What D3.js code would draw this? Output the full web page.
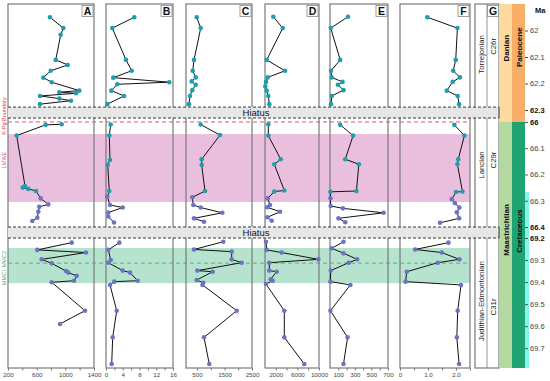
<!DOCTYPE html>
<html>
<head>
<meta charset="utf-8">
<script src="https://cdn.jsdelivr.net/npm/d3@7"></script>
<style>
  body { margin: 0; background: #fff; }
  svg { display: block; font-family: Arial, "Liberation Sans", sans-serif; }
</style>
</head>
<body>
<svg width="550" height="381"></svg>
<script>
// [age in Ma, value] for each proxy column, top to bottom
const panelA = [
  [61.950, 786], [61.991, 972], [62.016, 935], [62.111, 866], [62.130, 1033], [62.152, 796],
  [62.178, 693], [62.195, 810], [62.227, 1195], [62.233, 916], [62.237, 1149], [62.247, 647],
  [62.257, 916], [62.265, 1079], [62.278, 647],
  [66.009, 949], [66.011, 726], [66.052, 321], [66.244, 437], [66.250, 405], [66.255, 483],
  [66.263, 591], [66.291, 656], [66.314, 762], [66.323, 637], [66.342, 623], [66.365, 609], [66.377, 539],
  [69.221, 1089], [69.254, 609], [69.266, 1288], [69.297, 670], [69.315, 810], [69.350, 1009],
  [69.357, 1041], [69.372, 1159], [69.394, 1121], [69.401, 810], [69.530, 1274], [69.590, 926]
];
const panelB = [
  [61.950, 6.76], [61.991, 1.5], [62.111, 4.78], [62.152, 6.14], [62.178, 1.74], [62.195, 15.1],
  [62.203, 2.7], [62.227, 1.27], [62.247, 4.3], [62.278, 0.31],
  [66.010, 1.12], [66.052, 0.79], [66.145, 0.96], [66.163, 0.41], [66.263, 0.79], [66.285, 0.31],
  [66.316, 0.96], [66.326, 3.99], [66.345, 0.55], [66.360, 0.55], [66.383, 1.91],
  [69.221, 3.18], [69.254, 0.55], [69.300, 1.12], [69.312, 0.55], [69.348, 3.99], [69.357, 5.73],
  [69.394, 7.57], [69.398, 1.98], [69.413, 0.96], [69.530, 2.56], [69.651, 1.6], [69.772, 1.36]
];
const panelC = [
  [61.950, 489], [61.991, 635], [62.111, 391], [62.152, 344], [62.177, 453], [62.192, 307],
  [62.205, 453], [62.225, 329], [62.247, 245], [62.278, 209],
  [66.010, 635], [66.050, 1336], [66.142, 671], [66.164, 671], [66.263, 791], [66.287, 329],
  [66.316, 365], [66.326, 635], [66.346, 1420], [66.367, 391], [66.380, 755],
  [69.217, 1456], [69.252, 391], [69.262, 1762], [69.297, 1762], [69.312, 2125], [69.348, 511],
  [69.353, 1071], [69.391, 489], [69.403, 729], [69.413, 700], [69.530, 1944], [69.651, 755], [69.772, 947]
];
const panelD = [
  [61.948, 1537], [61.991, 3278], [62.111, 315], [62.152, 3704], [62.177, 500], [62.194, 185],
  [62.211, 56], [62.227, 315], [62.247, 611], [62.278, 796],
  [66.009, 611], [66.052, 611], [66.142, 2907], [66.161, 1722], [66.261, 3574], [66.265, 1722],
  [66.291, 500], [66.316, 926], [66.325, 426], [66.342, 2778], [66.363, 426], [66.376, 1241],
  [69.217, 185], [69.254, 315], [69.266, 3093], [69.297, 9870], [69.312, 796], [69.348, 796],
  [69.353, 2167], [69.387, 1056], [69.394, 1426], [69.409, 185], [69.530, 3574], [69.651, 3574], [69.772, 7278]
];
const panelE = [
  [61.948, 217], [61.991, 9], [62.111, 123], [62.152, 12], [62.177, 21], [62.194, 151],
  [62.205, 95], [62.225, 163], [62.247, 21], [62.278, 12],
  [66.011, 123], [66.052, 279], [66.142, 184], [66.161, 348], [66.263, 319], [66.266, 5],
  [66.291, 5], [66.320, 9], [66.329, 156], [66.346, 647], [66.367, 102], [66.382, 184],
  [69.217, 163], [69.247, 21], [69.269, 163], [69.297, 328], [69.312, 225], [69.348, 9],
  [69.398, 5], [69.413, 246], [69.530, 5], [69.651, 212], [69.772, 163]
];
const panelF = [
  [61.950, 0.975], [61.991, 2.05], [62.111, 1.99], [62.152, 1.90], [62.177, 2.14], [62.194, 1.88],
  [62.227, 1.67], [62.247, 2.06], [62.278, 2.11],
  [66.011, 1.94], [66.052, 2.30], [66.142, 2.08], [66.161, 2.05], [66.265, 2.23], [66.267, 2.0],
  [66.294, 1.85], [66.309, 1.96], [66.326, 2.12], [66.344, 2.03], [66.367, 2.11], [66.384, 1.43],
  [69.221, 1.73], [69.252, 0.54], [69.266, 1.49], [69.297, 2.12], [69.312, 1.35], [69.353, 0.24],
  [69.398, 0.20], [69.413, 2.18], [69.530, 2.06], [69.651, 2.03], [69.772, 2.11]
];

const panelNames = ["A", "B", "C", "D", "E", "F"];
const panelDomains = [[200, 1400], [0, 16], [100, 2500], [0, 10000], [0, 700], [0, 2.5]];
const tickLabels = [[200, 600, 1000, 1400], [0, 4, 8, 12, 16], [500, 1500, 2500],
                    [2000, 6000, 10000], [100, 300, 500, 700], [0, 1, 2]];
const minorTicks = [[200, 400, 600, 800, 1000, 1200, 1400], [0, 2, 4, 6, 8, 10, 12, 14, 16],
                    [500, 1000, 1500, 2000, 2500], [2000, 4000, 6000, 8000, 10000],
                    [100, 200, 300, 400, 500, 600, 700], [0, 0.5, 1, 1.5, 2, 2.5]];

// age sections (with hiatuses between them)
const sections = [[61.9, 62.3], [65.985, 66.4], [69.2, 69.79]];
const hiatuses = [[62.289, 65.985], [66.4, 69.2]];
const kpgAge = 66.0;
const lmweBand = [66.046, 66.305];
const mmcBand = [69.245, 69.405];
const mmcLine = 69.314;
const colorSwitchAge = 66.268;

const maTicks = [62, 62.1, 62.2, 62.3, 66, 66.1, 66.2, 66.3, 66.4, 69.2, 69.3, 69.4, 69.5, 69.6, 69.7];
const maBold = [62.3, 66, 66.4, 69.2];

const stages = [["Torrejonian", 62.09], ["Lancian", 66.164], ["Judithian-Edmontonian", 69.486]];
const chrons = [["C26r", 62.06], ["C29r", 66.145], ["C31r", 69.513]];
const ages = [["Danian", 61.9, 66.0, 62.067], ["Maastrichtian", 66.0, 69.79, 67.16]];
const epochs = [["Paleocene", 61.9, 66.0, 62.063], ["Cretaceous", 66.0, 69.79, 67.42]];

// ---- layout ----
const svg = d3.select("svg");
const yTop = 4, yBottom = 368;
const panelX = [[8, 94], [106, 173], [186, 252], [265, 319], [330, 388], [400, 470]];
const teal = "#1c9fad", purple = "#6b73c6";

const y = d3.scaleLinear()
  .domain([61.9, 62.3, 65.985, 66.4, 69.2, 69.79])
  .range([yTop, 110, 118, 227, 238, yBottom]);

const bandLeft = 8, bandRight = 470;

// background bands
svg.append("rect").attr("x", bandLeft).attr("width", bandRight - bandLeft)
  .attr("y", y(lmweBand[0])).attr("height", y(lmweBand[1]) - y(lmweBand[0]))
  .attr("fill", "#eabfdd");
svg.append("rect").attr("x", bandLeft).attr("width", bandRight - bandLeft)
  .attr("y", y(mmcBand[0])).attr("height", y(mmcBand[1]) - y(mmcBand[0]))
  .attr("fill", "#b5e3cd");
svg.append("line").attr("x1", bandLeft).attr("x2", bandRight)
  .attr("y1", y(mmcLine)).attr("y2", y(mmcLine))
  .attr("stroke", "#4a9a7e").attr("stroke-width", 0.8).attr("stroke-dasharray", "4,3");
svg.append("line").attr("x1", bandLeft).attr("x2", bandRight)
  .attr("y1", y(kpgAge)).attr("y2", y(kpgAge))
  .attr("stroke", "#f2505e").attr("stroke-width", 1).attr("stroke-dasharray", "4,3");

// proxy panels
const allPanels = [panelA, panelB, panelC, panelD, panelE, panelF];
allPanels.forEach((data, i) => {
  const [x0, x1] = panelX[i];
  const x = d3.scaleLinear().domain(panelDomains[i]).range([x0, x1]);
  const g = svg.append("g");

  g.append("rect").attr("x", x0).attr("y", yTop).attr("width", x1 - x0).attr("height", yBottom - yTop)
    .attr("fill", "none").attr("stroke", "#7a7a7a").attr("stroke-width", 1.2);

  const line = d3.line().x(d => x(d[1])).y(d => y(d[0]));
  sections.forEach(([a, b]) => {
    const seg = data.filter(d => d[0] >= a && d[0] <= b);
    g.append("path").datum(seg).attr("d", line)
      .attr("fill", "none").attr("stroke", "#111").attr("stroke-width", 1);
  });
  g.selectAll("circle").data(data).join("circle")
    .attr("cx", d => x(d[1])).attr("cy", d => y(d[0])).attr("r", 2.3)
    .attr("fill", d => d[0] < colorSwitchAge ? teal : purple);

  const fmt = i === 5 ? (d => d === 0 ? "0" : d.toFixed(1)) : d3.format("d");
  const axis = d3.axisBottom(x).tickValues(minorTicks[i]).tickSize(2.5).tickPadding(2)
    .tickFormat(d => tickLabels[i].includes(d) ? fmt(d) : "");
  const ax = svg.append("g").attr("transform", `translate(0,${yBottom})`).call(axis);
  ax.select(".domain").remove();
  ax.selectAll("line").attr("stroke", "#777");
  ax.selectAll("text").attr("font-size", 6.2).attr("fill", "#444").attr("font-family", "Arial, 'Liberation Sans'");

  g.append("rect").attr("x", x1 - 12).attr("y", yTop + 1.5).attr("width", 11).attr("height", 11)
    .attr("fill", "#fff").attr("stroke", "#888").attr("stroke-width", 0.8);
  g.append("text").attr("x", x1 - 6.5).attr("y", yTop + 11).attr("text-anchor", "middle")
    .attr("font-size", 10.5).attr("font-weight", "bold").attr("fill", "#111").text(panelNames[i]);
});

// G column
const gX0 = 475, gMid = 487, gX1 = 499;
svg.append("rect").attr("x", gX0).attr("y", yTop).attr("width", gX1 - gX0).attr("height", yBottom - yTop)
  .attr("fill", "none").attr("stroke", "#7a7a7a").attr("stroke-width", 1.2);
svg.append("line").attr("x1", gMid).attr("x2", gMid).attr("y1", yTop).attr("y2", yBottom)
  .attr("stroke", "#7a7a7a").attr("stroke-width", 0.8);
svg.append("rect").attr("x", gX1 - 11.5).attr("y", yTop + 1.5).attr("width", 11).attr("height", 11)
  .attr("fill", "#fff").attr("stroke", "#888").attr("stroke-width", 0.8);
svg.append("text").attr("x", gX1 - 6).attr("y", yTop + 11).attr("text-anchor", "middle")
  .attr("font-size", 10.5).attr("font-weight", "bold").attr("fill", "#111").text("G");
stages.forEach(([name, age]) => {
  svg.append("text").attr("transform", `translate(${gX0 + 8.5},${y(age)}) rotate(-90)`)
    .attr("text-anchor", "middle").attr("font-size", 7.8).attr("fill", "#222").text(name);
});
chrons.forEach(([name, age]) => {
  svg.append("text").attr("transform", `translate(${gMid + 8.5},${y(age)}) rotate(-90)`)
    .attr("text-anchor", "middle").attr("font-size", 7.8).attr("fill", "#222").text(name);
});

// age / epoch columns
const ageX = [499, 512], epochX = [512, 525];
const ageFill = { "Danian": "#fcd99e", "Maastrichtian": "#b3d9a1" };
const epochFill = { "Paleocene": "#f8ae66", "Cretaceous": "#1fa373" };
[[ages, ageX, ageFill], [epochs, epochX, epochFill]].forEach(([list, xs, fills]) => {
  list.forEach(([name, a0, a1, mid]) => {
    svg.append("rect").attr("x", xs[0]).attr("width", xs[1] - xs[0])
      .attr("y", y(a0)).attr("height", y(a1) - y(a0)).attr("fill", fills[name]);
    svg.append("text").attr("transform", `translate(${(xs[0] + xs[1]) / 2 + 3},${y(mid)}) rotate(-90)`)
      .attr("text-anchor", "middle").attr("font-size", 8).attr("font-weight", "bold")
      .attr("fill", "#111").text(name);
  });
});
svg.append("rect").attr("x", 525).attr("width", 4).attr("y", 192).attr("height", yBottom - 192)
  .attr("fill", "#86f3ef");

// Ma axis
const maAxis = d3.axisRight(y).tickValues(maTicks).tickSize(3).tickPadding(2).tickFormat(d => String(d));
const ma = svg.append("g").attr("transform", "translate(525,0)").call(maAxis);
ma.select(".domain").remove();
ma.selectAll("line").attr("stroke", "#555");
ma.selectAll("text").attr("font-size", 7.5)
  .attr("font-family", "Arial, 'Liberation Sans'")
  .attr("font-weight", d => maBold.includes(d) ? "bold" : "normal")
  .attr("fill", d => maBold.includes(d) ? "#111" : "#444");
svg.append("text").attr("x", 535).attr("y", 13).attr("font-size", 7.5).attr("font-weight", "bold")
  .attr("fill", "#111").text("Ma");

// hiatus bands on top
hiatuses.forEach(([a0, a1]) => {
  const y0 = y(a0), y1 = y(a1);
  svg.append("rect").attr("x", bandLeft).attr("width", gX1 - bandLeft).attr("y", y0).attr("height", y1 - y0)
    .attr("fill", "#e6e6e6");
  [y0, y1].forEach(yy => svg.append("line").attr("x1", bandLeft).attr("x2", gX1).attr("y1", yy).attr("y2", yy)
    .attr("stroke", "#222").attr("stroke-width", 0.9).attr("stroke-dasharray", "3,2"));
  svg.append("line").attr("x1", gX1).attr("x2", gX1).attr("y1", y0).attr("y2", y1)
    .attr("stroke", "#222").attr("stroke-width", 0.9);
  svg.append("text").attr("x", 256).attr("y", (y0 + y1) / 2 + 3.5).attr("text-anchor", "middle")
    .attr("font-size", 9.5).attr("fill", "#111").text("Hiatus");
});

// side annotations
[["K-Pg Boundary", 116, "#e8343f"], ["LMWE", 160, "#d9559e"], ["MMC1  MMC2", 268, "#3aa98a"]]
  .forEach(([t, cy, c]) => {
    svg.append("text").attr("transform", `translate(6,${cy}) rotate(-90)`)
      .attr("text-anchor", "middle").attr("font-size", 5.5).attr("fill", c).text(t);
  });
</script>
</body>
</html>
